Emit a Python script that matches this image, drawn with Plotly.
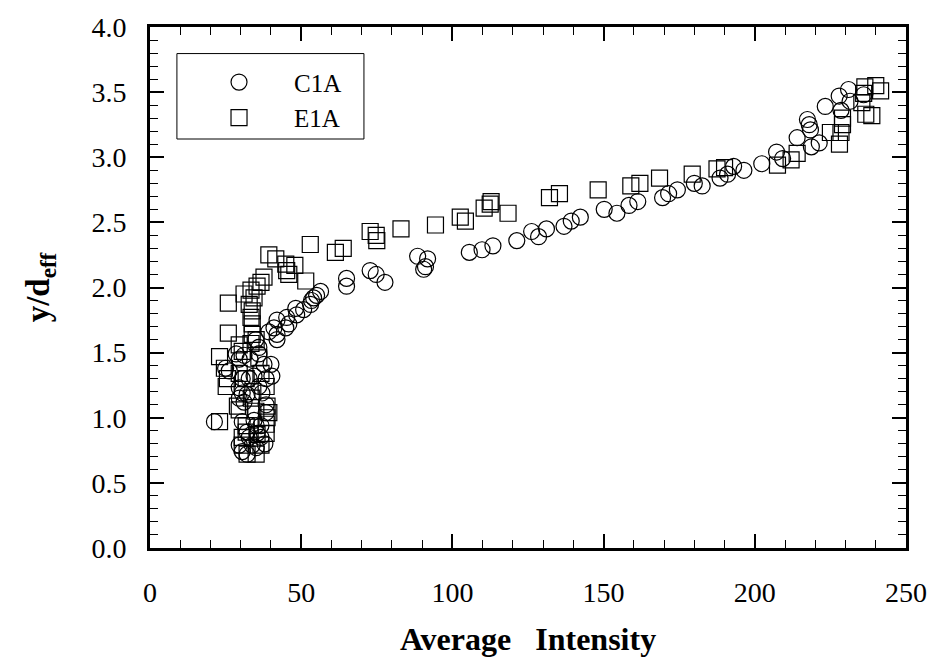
import plotly.graph_objects as go

# C1A (circles)
c1a_x = [21.3, 28.5, 29.5, 31.1, 33.1, 36.0, 37.7, 40.0, 25.0, 26.2, 30.5, 32.8, 34.4, 38.4, 40.3,
         29.5, 30.5, 32.1, 36.0, 37.0, 29.5, 31.1, 38.4, 38.4, 34.4, 35.1, 36.7, 30.5, 32.1, 32.8,
         33.8, 35.1, 29.5, 30.5, 32.1, 35.4, 36.7, 38.0,
         35.0, 36.0, 39.3, 42.0, 41.0, 42.0, 42.0, 45.2, 45.9, 44.9, 50.8, 48.2, 48.5, 53.1, 53.4,
         54.1, 55.1, 56.4,
         65.0, 65.0, 72.8, 74.8, 77.7, 88.5, 91.8, 91.1, 90.5, 105.6, 109.8, 113.4, 121.3, 126.2,
         128.5, 131.1, 136.9, 139.3, 142.3, 150.2, 154.4, 158.4, 161.3, 169.5, 171.5, 174.4, 180.0,
         182.6, 188.5, 191.0, 193.0, 196.4, 202.3, 207.2, 209.2, 214.0, 217.4, 218.0, 218.4, 218.7,
         221.3, 223.3, 227.9, 228.5, 231.0, 231.5, 236.0]
c1a_y = [0.97, 1.49, 1.45, 1.48, 1.45, 1.49, 1.41, 1.41, 1.38, 1.36, 1.30, 1.30, 1.32, 1.30, 1.32,
         1.23, 1.19, 1.18, 1.24, 1.19, 1.15, 1.12, 1.10, 1.04, 0.98, 0.94, 0.94, 0.97, 0.89, 0.85,
         0.79, 0.77, 0.79, 0.74, 0.72, 0.88, 0.85, 0.80,
         1.60, 1.54, 1.66, 1.75, 1.69, 1.64, 1.60, 1.77, 1.72, 1.69, 1.83, 1.84, 1.79, 1.87, 1.90,
         1.92, 1.94, 1.97,
         2.07, 2.01, 2.13, 2.10, 2.04, 2.24, 2.22, 2.16, 2.14, 2.27, 2.29, 2.32, 2.36, 2.43,
         2.39, 2.45, 2.47, 2.51, 2.54, 2.60, 2.57, 2.63, 2.66, 2.69, 2.72, 2.75, 2.80,
         2.78, 2.84, 2.87, 2.93, 2.90, 2.95, 3.04, 2.99, 3.15, 3.29, 3.25, 3.21, 3.08,
         3.11, 3.39, 3.47, 3.36, 3.52, 3.43, 3.48]

# E1A (squares)
e1a_x = [23.0, 28.9, 29.5, 38.7, 39.3, 38.7, 31.8, 31.8, 30.5, 35.4, 36.7, 35.1, 30.5, 32.1, 38.4,
         38.4, 25.6, 25.2, 29.5, 31.8, 36.7, 38.4, 23.0, 24.6, 29.5, 30.5, 25.9, 33.8, 35.1, 33.4,
         32.8, 33.8, 33.4, 33.8, 31.1, 33.4, 34.4, 25.9, 33.5, 35.0, 34.0, 36.0,
         37.7, 36.7, 35.4, 39.3, 41.6, 44.9, 47.9, 45.2, 45.9, 51.5,
         53.0, 61.3, 63.9, 72.8, 74.8, 75.0, 83.0, 94.4, 102.6, 104.3, 110.5, 112.5, 112.8, 118.4,
         132.1, 135.4, 148.2, 159.0, 162.0, 168.5, 179.3, 187.5, 190.0, 207.5, 212.0, 214.0, 225.0,
         228.0, 228.5, 229.0, 229.0, 236.7, 238.7, 235.4, 236.0, 236.4, 240.0, 241.6]
e1a_y = [0.97, 1.09, 1.06, 1.09, 1.04, 1.00, 0.94, 0.89, 0.85, 0.87, 0.79, 0.72, 0.79, 0.72, 0.95,
         0.88, 1.30, 1.24, 1.34, 1.30, 1.34, 1.24, 1.47, 1.38, 1.56, 1.51, 1.65, 1.64, 1.60, 1.57,
         1.87, 1.82, 1.77, 1.72, 1.95, 1.98, 1.92, 1.88, 1.15, 1.05, 1.20, 1.46,
         2.08, 2.04, 2.01, 2.25, 2.22, 2.18, 2.17, 2.13, 2.10, 2.05,
         2.33, 2.27, 2.30, 2.43, 2.40, 2.36, 2.45, 2.48, 2.54, 2.51, 2.61, 2.64, 2.66, 2.57,
         2.69, 2.72, 2.75, 2.78, 2.80, 2.84, 2.87, 2.91, 2.92, 2.94, 2.98, 3.03, 3.19,
         3.10, 3.19, 3.25, 3.30, 3.33, 3.32, 3.42, 3.49, 3.54, 3.55, 3.51]

FONT = "Liberation Serif, Times New Roman, serif"

fig = go.Figure()
fig.add_trace(go.Scatter(x=c1a_x, y=c1a_y, mode="markers", name="C1A",
                         marker=dict(symbol="circle-open", size=16, color="black",
                                     line=dict(width=1.2, color="black"))))
fig.add_trace(go.Scatter(x=e1a_x, y=e1a_y, mode="markers", name="E1A",
                         marker=dict(symbol="square-open", size=16, color="black",
                                     line=dict(width=1.2, color="black"))))

axis_common = dict(showgrid=False, zeroline=False, showline=True, linecolor="black",
                   linewidth=3, mirror="allticks", ticks="inside", ticklen=14, tickwidth=1.5,
                   tickcolor="black", tickfont=dict(family=FONT, size=28, color="black"))

fig.update_xaxes(range=[0, 250], dtick=50, tickformat="d",
                 minor=dict(ticks="inside", dtick=10, ticklen=8, tickwidth=1.2, tickcolor="black"),
                 title=dict(text="<b>Average\u00a0\u00a0\u00a0Intensity</b>",
                            font=dict(family=FONT, size=32, color="black"), standoff=22),
                 ticklabelstandoff=17, **axis_common)
fig.update_yaxes(range=[0, 4], dtick=0.5, tickformat=".1f",
                 minor=dict(ticks="inside", dtick=0.1, ticklen=8, tickwidth=1.2, tickcolor="black"),
                 title=dict(text="<b>y/d<sub>eff</sub></b>",
                            font=dict(family=FONT, size=33, color="black"), standoff=32),
                 ticklabelstandoff=15, **axis_common)

fig.add_shape(type="rect", xref="paper", yref="paper",
              x0=0.0356, x1=0.283, y0=0.785, y1=0.949,
              line=dict(color="black", width=1), fillcolor="white", layer="below")

fig.update_layout(
    width=939, height=664,
    margin=dict(l=150, r=28, t=23, b=107),
    paper_bgcolor="white", plot_bgcolor="white",
    showlegend=True,
    legend=dict(x=0.045, y=0.938, xanchor="left", yanchor="top",
                font=dict(family=FONT, size=25, color="black"),
                bgcolor="rgba(0,0,0,0)", borderwidth=0, itemwidth=100, tracegroupgap=0),
    font=dict(family=FONT, color="black"),
)

page_js = ("document.body.style.margin='0';document.body.style.padding='0';"
           "document.body.style.overflow='hidden';"
           "document.documentElement.style.overflow='hidden';")
fig.write_html("out.html", post_script=page_js, config={"displayModeBar": False})
